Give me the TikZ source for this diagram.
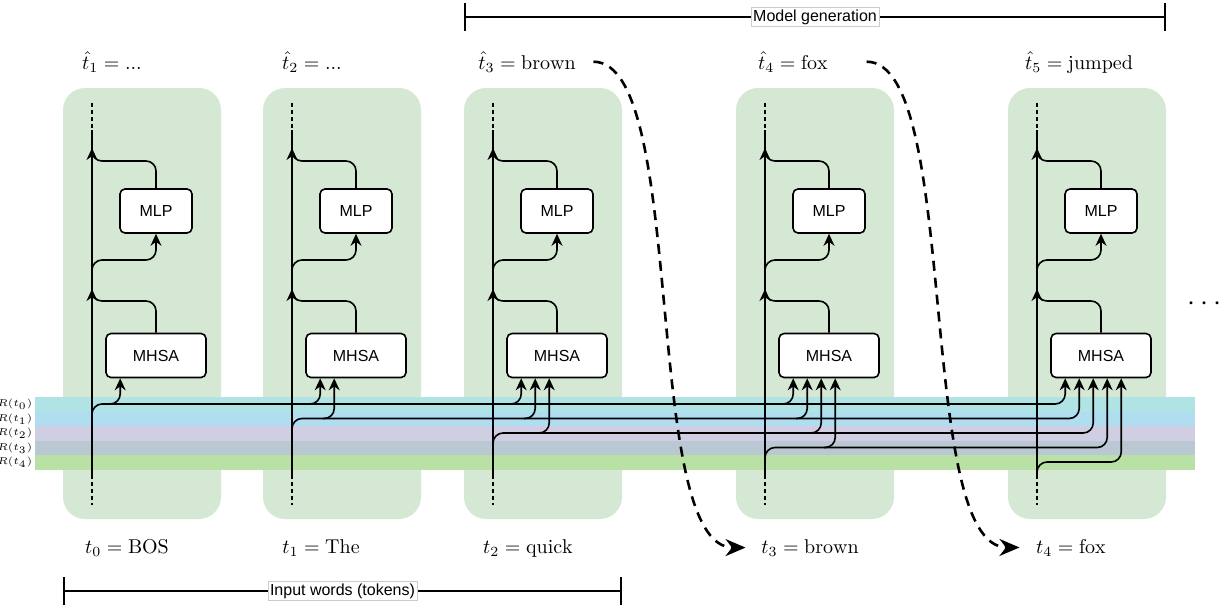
\documentclass[tikz,border=0pt]{standalone}
\usepackage{amsmath,amssymb}
\usepackage{fontspec}
\setsansfont{Liberation Sans}
\usepackage{tikz}
\usetikzlibrary{positioning,arrows.meta}

\definecolor{colgreen}{HTML}{D5E8D4}
\definecolor{rzero}{HTML}{B0E3E6}
\definecolor{rone}{HTML}{B1DDF0}
\definecolor{rtwo}{HTML}{D0CEE2}
\definecolor{rthree}{HTML}{BAC8D3}
\definecolor{rfour}{HTML}{B9E0A5}

\begin{document}
\begin{tikzpicture}[x=0.5pt, y=-0.5pt, thick,
    column/.style={fill=colgreen, rounded corners=11pt, minimum width=79pt, minimum height=215.5pt, inner sep=0pt},
    block/.style={draw, fill=white, rounded corners=2.5pt, inner sep=0pt, minimum height=22pt, font=\sffamily\fontsize{8}{9}\selectfont},
    feed/.style={-{Stealth[length=6pt,width=5.5pt]}, rounded corners=5pt},
    dots/.style={dash pattern=on 2pt off 1.5pt},
    word/.style={anchor=base, inner sep=0pt},
    gen/.style={-{Stealth[length=10pt,width=8.5pt]}, line width=1.3pt, dash pattern=on 5pt off 3.5pt},
    span/.style={{Bar[width=14pt]}-{Bar[width=14pt]}},
    spanlabel/.style={fill=white, draw=gray!40, very thin, inner sep=1pt, font=\sffamily\fontsize{8}{9}\selectfont}]

\useasboundingbox (0,0) rectangle (1225,606);

% one column per token
\foreach \i/\L in {0/92,1/292,2/493,3/765,4/1037}
  \node[column] (col\i) at (\L+50,303.5) {};

% residual streams R(t_i)
\foreach \i/\c in {0/rzero,1/rone,2/rtwo,3/rthree,4/rfour} {
  \fill[\c] (35,397+14.5*\i) rectangle (1195,411.5+14.5*\i);
  \node[anchor=east, inner sep=1pt, font=\tiny] (r\i) at (35,404.25+14.5*\i) {$R(t_{\i})$};
}

\foreach \i/\L in {0/92,1/292,2/493,3/765,4/1037} {
  \draw[dots] (\L,103) -- (\L,130);
  \draw (\L,130) -- (\L,475);
  \draw[dots] (\L,475) -- (\L,505);
  \node[block, minimum width=36pt] (mlp\i) at (\L+64,211) {MLP};
  \node[block, minimum width=50pt] (mhsa\i) at (\L+64,355.5) {MHSA};
  \draw[feed] (mhsa\i.north) |- (\L,301) -- (\L,289);
  \draw[feed] (\L,276) -- (\L,260) -| (mlp\i.south);
  \draw[feed] (mlp\i.north) |- (\L,161) -- (\L,148);
}

% attention inputs
\foreach \j/\L in {0/92,1/292,2/493,3/765,4/1037} {
  \pgfmathsetmacro\yy{404+14.5*\j}
  \draw[feed] (\L,\yy+13) -- (\L,\yy) -| ([xshift={(7.5+7*\j)*1pt}]mhsa4.south west);
  \foreach \k/\M in {0/92,1/292,2/493,3/765} {
    \ifnum\k<\j\else
      \draw[feed] (\M+17+14*\j,\yy) -| ([xshift={(7.5+7*\j)*1pt}]mhsa\k.south west);
    \fi
  }
}

\node[word] (out0) at (112,69) {$\hat{t}_1 = ...$};
\node[word] (out1) at (312,69) {$\hat{t}_2 = ...$};
\node[word] (out2) at (527,69) {$\hat{t}_3 = \mathrm{brown}$};
\node[word] (out3) at (793,69) {$\hat{t}_4 = \mathrm{fox}$};
\node[word] (out4) at (1079,69) {$\hat{t}_5 = \mathrm{jumped}$};

\node[word] (in0) at (127,553) {$t_0 = \mathrm{BOS}$};
\node[word] (in1) at (321,553) {$t_1 = \mathrm{The}$};
\node[word] (in2) at (528,553) {$t_2 = \mathrm{quick}$};
\node[word] (in3) at (810,553) {$t_3 = \mathrm{brown}$};
\node[word] (in4) at (1071,553) {$t_4 = \mathrm{fox}$};

\node[font=\Large] (more) at (1207,304) {$\cdots$};

\draw[gen] ([xshift=8.5pt]out2.east) .. controls +(95,0) and +(-105,0) .. ([xshift=-7.5pt]in3.west);
\draw[gen] ([xshift=19pt]out3.east) .. controls +(95,0) and +(-105,0) .. ([xshift=-8pt]in4.west);

\coordinate (genL) at (464,17);
\coordinate (genR) at (1166,17);
\draw[span] (genL) -- (genR);
\node[spanlabel] (genlabel) at (815,17) {Model generation};

\coordinate (inL) at (63,591);
\coordinate (inR) at (622,591);
\draw[span] (inL) -- (inR);
\node[spanlabel] (inlabel) at (342.5,591) {Input words (tokens)};
\end{tikzpicture}
\end{document}
